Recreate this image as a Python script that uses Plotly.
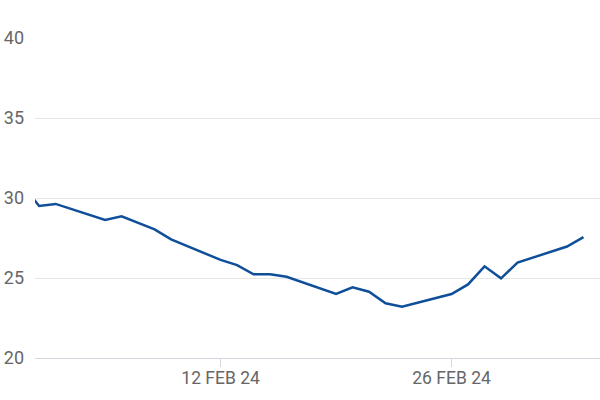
import plotly.graph_objects as go

dates = ["2024-01-31", "2024-02-01", "2024-02-02", "2024-02-05", "2024-02-06",
         "2024-02-07", "2024-02-08", "2024-02-09", "2024-02-12", "2024-02-13",
         "2024-02-14", "2024-02-15", "2024-02-16", "2024-02-19", "2024-02-20",
         "2024-02-21", "2024-02-22", "2024-02-23", "2024-02-26", "2024-02-27",
         "2024-02-28", "2024-02-29", "2024-03-01", "2024-03-04", "2024-03-05"]
values = [30.8, 29.5, 29.63, 28.63, 28.85,
          28.42, 28.04, 27.42, 26.13, 25.81,
          25.23, 25.23, 25.08, 24.0, 24.42,
          24.14, 23.42, 23.2, 24.0, 24.6,
          25.73, 24.98, 25.96, 26.97, 27.55]

x_tickvals = ["2024-02-12", "2024-02-26"]
x_ticktext = ["12 FEB 24", "26 FEB 24"]
y_tickvals = [20, 25, 30, 35, 40]

fig = go.Figure()
fig.add_trace(go.Scatter(
    x=dates, y=values, mode="lines",
    line=dict(color="#0f4f9a", width=2.5),
    hoverinfo="skip",
))

font = dict(family="Roboto, Arial, sans-serif", size=18, color="#666666")

fig.update_layout(
    width=600, height=400,
    margin=dict(l=35, r=0, t=38, b=42),
    paper_bgcolor="white", plot_bgcolor="white",
    showlegend=False,
    font=font,
    xaxis=dict(
        type="date",
        range=["2024-01-31 18:00", "2024-03-06 00:00"],
        tickvals=x_tickvals, ticktext=x_ticktext,
        showgrid=False, zeroline=False,
        showline=True, linecolor="#d3d8df", linewidth=1,
        ticks="outside", ticklen=8, tickcolor="#d3d8df", tickwidth=1,
        ticklabelstandoff=-4,
        tickfont=dict(family="Roboto, Arial, sans-serif", size=17.5, color="#666666"),
        automargin=False,
    ),
    yaxis=dict(
        range=[20, 40],
        tickvals=y_tickvals,
        showgrid=True, gridcolor="#e6e6e6", gridwidth=1,
        zeroline=False, showline=False,
        ticks="", ticklabelstandoff=10,
        tickfont=font,
        automargin=False,
    ),
)

fig.write_html("out.html", config={"displayModeBar": False},
               post_script="document.body.style.margin='0';")
